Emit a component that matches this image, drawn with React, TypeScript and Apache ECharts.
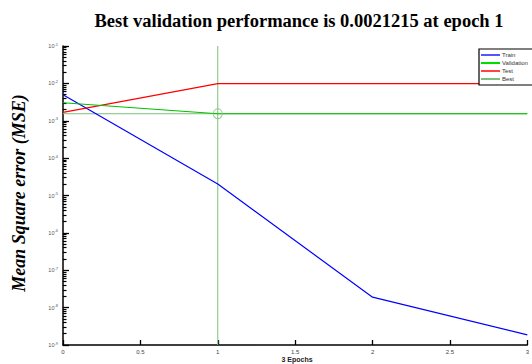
import React, { useEffect, useRef } from "react";
import * as echarts from "echarts";

const epochs = [0, 1, 2, 3];
const trainPerf = [4.96e-3, 2.02e-5, 1.9e-8, 1.86e-9];
const validationPerf = [3.03e-3, 1.54e-3, 1.54e-3, 1.54e-3];
const testPerf = [1.67e-3, 9.8e-3, 9.8e-3, 9.8e-3];
const bestEpoch = 1;
const bestPerf = 1.54e-3;
const titleText = "Best validation performance is 0.0021215 at epoch 1";
const yAxisTitle = "Mean Square error (MSE)";
const xAxisTitle = "3 Epochs";
const legendNames = ["Train", "Validation", "Test", "Best"];
const yMinExp = -9;
const yMaxExp = -1;

const minorTickValues: number[] = [];
for (let n = yMinExp; n < yMaxExp; n++) {
  for (let k = 2; k <= 9; k++) minorTickValues.push(n + Math.log10(k));
}

export default function App() {
  const ref = useRef<HTMLDivElement>(null);
  useEffect(() => {
    if (!ref.current) return;
    const chart = echarts.init(ref.current, undefined, { renderer: "svg" });
    const bestColor = "#7dbf7d";
    chart.setOption({
      animation: false,
      backgroundColor: "#ffffff",
      grid: { left: 63, right: 0, top: 46, bottom: 19 },
      legend: {
        data: legendNames,
        orient: "vertical",
        left: 479,
        top: 49,
        padding: [3, 6, 3, 2],
        itemGap: 2,
        itemWidth: 19,
        itemHeight: 2,
        icon: "rect",
        borderColor: "#000",
        borderWidth: 1.2,
        backgroundColor: "#fff",
        textStyle: { fontSize: 6, color: "#333", fontFamily: "Liberation Sans", padding: [0, 0, 0, -3] },
      },
      xAxis: {
        type: "value",
        min: 0,
        max: 3,
        interval: 0.5,
        axisLine: { show: true, lineStyle: { color: "#000", width: 1.5 } },
        axisTick: { show: true, inside: true, length: 5, lineStyle: { color: "#000", width: 1.3 } },
        axisLabel: {
          fontSize: 6,
          color: "#444",
          fontFamily: "Liberation Sans",
          margin: 4,
          formatter: (v: number) => String(v),
        },
        splitLine: { show: false },
      },
      yAxis: [
        {
          type: "log",
          logBase: 10,
          min: Math.pow(10, yMinExp),
          max: Math.pow(10, yMaxExp),
          interval: 1,
          axisLine: { show: true, lineStyle: { color: "#000", width: 1.5 } },
          axisTick: { show: true, inside: true, length: 6, lineStyle: { color: "#000", width: 1.3 } },
          axisLabel: {
            margin: 5,
            formatter: (v: number) => `{b|10}{s|${Math.round(Math.log10(v))}}`,
            rich: {
              b: { fontSize: 5.5, color: "#555", fontFamily: "Liberation Sans" },
              s: { fontSize: 4, color: "#555", fontFamily: "Liberation Sans", verticalAlign: "top", padding: [0, 0, 4, 0] },
            },
          },
          splitLine: { show: false },
        },
        {
          type: "value",
          min: yMinExp,
          max: yMaxExp,
          position: "left",
          axisLine: { show: false },
          axisLabel: { show: false },
          axisTick: {
            show: true,
            inside: true,
            length: 3.5,
            customValues: minorTickValues,
            lineStyle: { color: "#000", width: 1.2 },
          },
          splitLine: { show: false },
        },
      ],
      graphic: [
        {
          type: "text",
          x: 299,
          y: 21,
          style: {
            text: titleText,
            textAlign: "center",
            textVerticalAlign: "middle",
            font: "bold 18.5px 'Liberation Serif'",
            fill: "#000",
          },
        },
        {
          type: "text",
          x: 19,
          y: 193,
          rotation: Math.PI / 2,
          style: {
            text: yAxisTitle,
            textAlign: "center",
            textVerticalAlign: "middle",
            font: "italic bold 18px 'Liberation Serif'",
            fill: "#000",
          },
        },
        {
          type: "text",
          x: 297,
          y: 359,
          style: {
            text: xAxisTitle,
            textAlign: "center",
            textVerticalAlign: "middle",
            font: "bold 7px 'Liberation Sans'",
            fill: "#222",
          },
        },
      ],
      series: [
        {
          name: "Best",
          type: "line",
          data: [
            [epochs[0], bestPerf],
            [epochs[epochs.length - 1], bestPerf],
          ],
          showSymbol: false,
          color: bestColor,
          lineStyle: { color: bestColor, width: 1 },
          z: 1,
        },
        {
          name: "BestVertical",
          type: "line",
          data: [
            [bestEpoch, Math.pow(10, yMinExp)],
            [bestEpoch, Math.pow(10, yMaxExp)],
          ],
          showSymbol: false,
          lineStyle: { color: bestColor, width: 1 },
          z: 1,
        },
        {
          name: "BestPoint",
          type: "scatter",
          data: [[bestEpoch, bestPerf]],
          symbol: "circle",
          symbolSize: [9, 10],
          itemStyle: { color: "rgba(0,0,0,0)", borderColor: bestColor, borderWidth: 1 },
          z: 5,
        },
        {
          name: "Train",
          type: "line",
          data: epochs.map((e, i) => [e, trainPerf[i]]),
          showSymbol: false,
          color: "#5555ff",
          lineStyle: { color: "#0000ff", width: 1.2 },
          z: 2,
        },
        {
          name: "Test",
          type: "line",
          data: epochs.map((e, i) => [e, testPerf[i]]),
          showSymbol: false,
          color: "#ff4444",
          lineStyle: { color: "#ff0000", width: 1.2 },
          z: 2,
        },
        {
          name: "Validation",
          type: "line",
          data: epochs.map((e, i) => [e, validationPerf[i]]),
          showSymbol: false,
          color: "#00dd00",
          lineStyle: { color: "#00c000", width: 1.2 },
          z: 3,
        },
      ],
    });
    return () => chart.dispose();
  }, []);
  return <div ref={ref} style={{ position: "fixed", left: 0, top: 0, width: 532, height: 364 }} />;
}
